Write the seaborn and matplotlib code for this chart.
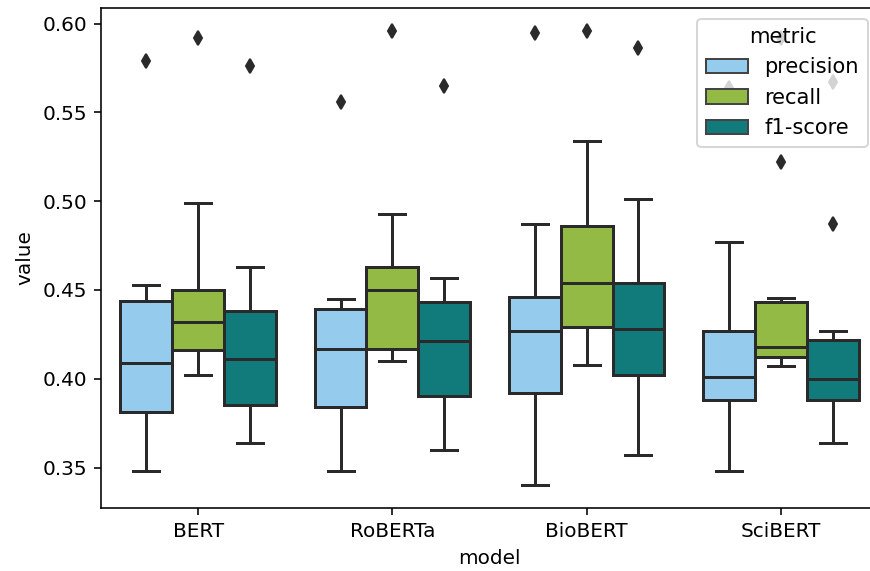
import numpy as np
import pandas as pd
import matplotlib
matplotlib.use("Agg")
import matplotlib.pyplot as plt
import seaborn as sns

models = ["BERT", "RoBERTa", "BioBERT", "SciBERT"]
metrics = ["precision", "recall", "f1-score"]
colors = ["#95CBEC", "#93BA45", "#117A7A"]

# scores per run
bert_precision = [.348, .362, .372, .381, .392, .401, .409, .421, .433, .444, .449, .453, .579]
bert_recall = [.402, .408, .412, .416, .421, .427, .432, .438, .444, .450, .468, .499, .592]
bert_f1 = [.364, .372, .379, .385, .394, .403, .411, .420, .430, .438, .451, .463, .576]

roberta_precision = [.348, .365, .376, .384, .396, .407, .417, .426, .433, .439, .442, .445, .556]
roberta_recall = [.410, .413, .415, .417, .429, .440, .450, .455, .459, .463, .478, .493, .596]
roberta_f1 = [.360, .374, .383, .390, .401, .411, .421, .430, .437, .443, .451, .457, .565]

biobert_precision = [.340, .365, .381, .392, .404, .416, .427, .434, .441, .446, .470, .487, .595]
biobert_recall = [.408, .416, .423, .429, .437, .446, .454, .465, .476, .486, .512, .534, .596]
biobert_f1 = [.357, .378, .393, .402, .410, .419, .428, .437, .446, .454, .480, .501, .586]

scibert_precision = [.348, .365, .380, .388, .393, .397, .401, .410, .419, .427, .452, .477, .564]
scibert_recall = [.407, .409, .410, .412, .414, .416, .418, .427, .436, .443, .4455, .522, .592]
scibert_f1 = [.364, .374, .382, .388, .392, .396, .400, .408, .415, .422, .427, .487, .567]

scores = {
    ("BERT", "precision"): bert_precision, ("BERT", "recall"): bert_recall, ("BERT", "f1-score"): bert_f1,
    ("RoBERTa", "precision"): roberta_precision, ("RoBERTa", "recall"): roberta_recall, ("RoBERTa", "f1-score"): roberta_f1,
    ("BioBERT", "precision"): biobert_precision, ("BioBERT", "recall"): biobert_recall, ("BioBERT", "f1-score"): biobert_f1,
    ("SciBERT", "precision"): scibert_precision, ("SciBERT", "recall"): scibert_recall, ("SciBERT", "f1-score"): scibert_f1,
}

rows = []
for (m, met), vals in scores.items():
    for v in vals:
        rows.append({"model": m, "metric": met, "value": v})
df = pd.DataFrame(rows)

line_c = "#2a2a2a"
fig = plt.figure(figsize=(870 / 144, 571 / 144), dpi=144)
ax = fig.add_axes([101 / 870, 1 - 508 / 571, (878 - 101) / 870, 500 / 571])

sns.boxplot(data=df, x="model", y="value", hue="metric", order=models, hue_order=metrics,
            palette=colors, saturation=1, linewidth=1.5, linecolor=line_c, fliersize=5,
            flierprops=dict(marker="d", markerfacecolor=line_c, markeredgecolor=line_c),
            ax=ax)

leg = ax.legend(title="metric", loc="upper right", fontsize=10.5, title_fontsize=10.5)
for h in leg.legend_handles:
    h.set_linewidth(1.0)
    h.set_edgecolor("#444444")
fig.savefig("out.png", dpi=144)
